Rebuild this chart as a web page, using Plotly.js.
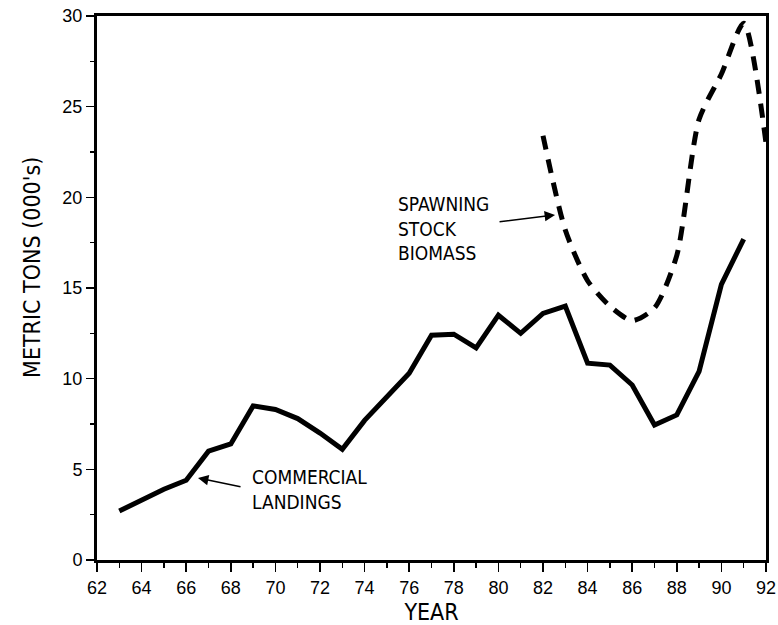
<!DOCTYPE html>
<html>
<head>
<meta charset="utf-8">
<script src="https://cdn.plot.ly/plotly-3.0.1.min.js"></script>
<style>
  html, body { margin: 0; padding: 0; background: #fff; }
  #chart { width: 778px; height: 625px; }
</style>
</head>
<body>
<div id="chart"></div>
<script>
// Commercial landings (thousand metric tons), 1963-1991
const landingYears = [63,64,65,66,67,68,69,70,71,72,73,74,75,76,77,78,79,80,81,82,83,84,85,86,87,88,89,90,91];
const landingValues = [2.7,3.3,3.9,4.4,6.0,6.4,8.5,8.3,7.8,7.0,6.1,7.7,9.0,10.3,12.4,12.45,11.7,13.5,12.5,13.6,14.0,10.85,10.75,9.65,7.45,8.0,10.4,15.2,17.7];

// Spawning stock biomass (thousand metric tons), 1982-1992
const biomassYears = [82,83,84,85,86,87,88,89,90,91,92];
const biomassValues = [23.4,18.2,15.4,14.0,13.2,13.9,16.8,24.3,26.8,29.6,23.0];

const xTickVals = [62,64,66,68,70,72,74,76,78,80,82,84,86,88,90,92];
const yTickVals = [0,5,10,15,20,25,30];

const FONT = 'Liberation Sans Narrow, DejaVu Sans Condensed, Liberation Sans, Arial, sans-serif';
const TICKFONT = 'Liberation Sans, Arial, sans-serif';

const traces = [
  {
    x: landingYears, y: landingValues, type: 'scatter', mode: 'lines',
    name: 'Commercial landings',
    line: { color: '#000', width: 5, shape: 'linear' },
    hoverinfo: 'x+y'
  },
  {
    x: biomassYears, y: biomassValues, type: 'scatter', mode: 'lines',
    name: 'Spawning stock biomass',
    line: { color: '#000', width: 5, dash: '14px,10px', shape: 'spline', smoothing: 0.7 },
    hoverinfo: 'x+y'
  }
];

const layout = {
  width: 778, height: 625,
  margin: { l: 97, r: 12, t: 16, b: 65 },
  paper_bgcolor: '#fff', plot_bgcolor: '#fff',
  showlegend: false,
  font: { family: TICKFONT, color: '#000', size: 18 },
  xaxis: {
    range: [62, 92], tickmode: 'array', tickvals: xTickVals,
    ticktext: xTickVals.map(String),
    showgrid: false, zeroline: false,
    showline: true, linecolor: '#000', linewidth: 3, mirror: true,
    ticks: 'outside', ticklen: 9, tickwidth: 1.5, tickcolor: '#000',
    minor: { dtick: 1, tick0: 62, ticks: 'outside', ticklen: 5, tickwidth: 1.5, tickcolor: '#000', showgrid: false },
    tickfont: { family: TICKFONT, size: 18, color: '#000' },
    title: { text: 'YEAR', font: { family: FONT, size: 23, color: '#000' }, standoff: 8 },
    automargin: false, fixedrange: true
  },
  yaxis: {
    range: [0, 30], tickmode: 'array', tickvals: yTickVals,
    ticktext: yTickVals.map(String),
    showgrid: false, zeroline: false,
    showline: true, linecolor: '#000', linewidth: 3, mirror: true,
    ticks: 'outside', ticklen: 8, tickwidth: 1.5, tickcolor: '#000',
    minor: { dtick: 2.5, tick0: 0, ticks: 'outside', ticklen: 4, tickwidth: 1.5, tickcolor: '#000', showgrid: false },
    tickfont: { family: TICKFONT, size: 18, color: '#000' },
    automargin: false, fixedrange: true
  },
  annotations: [
    {
      x: -0.097, y: 0.537, xref: 'paper', yref: 'paper', xanchor: 'center', yanchor: 'middle',
      text: "METRIC TONS (000's)", textangle: -90, showarrow: false,
      font: { family: FONT, size: 23, color: '#000' }
    },
    {
      x: 75.4, y: 18.3, xref: 'x', yref: 'y', xanchor: 'left', yanchor: 'middle', align: 'left',
      text: 'SPAWNING<br>STOCK<br>BIOMASS', showarrow: false,
      font: { family: FONT, size: 19, color: '#000' }
    },
    {
      x: 82.54, y: 19.03, xref: 'x', yref: 'y', text: '', showarrow: true,
      ax: -57, ay: 7, arrowhead: 2, arrowsize: 1.3, arrowwidth: 1.6, arrowcolor: '#000'
    },
    {
      x: 68.86, y: 3.9, xref: 'x', yref: 'y', xanchor: 'left', yanchor: 'middle', align: 'left',
      text: 'COMMERCIAL<br>LANDINGS', showarrow: false,
      font: { family: FONT, size: 19, color: '#000' }
    },
    {
      x: 66.53, y: 4.52, xref: 'x', yref: 'y', text: '', showarrow: true,
      ax: 44, ay: 9, arrowhead: 2, arrowsize: 1.3, arrowwidth: 1.6, arrowcolor: '#000'
    }
  ]
};

Plotly.newPlot('chart', traces, layout, { displayModeBar: false, staticPlot: true });
</script>
</body>
</html>
